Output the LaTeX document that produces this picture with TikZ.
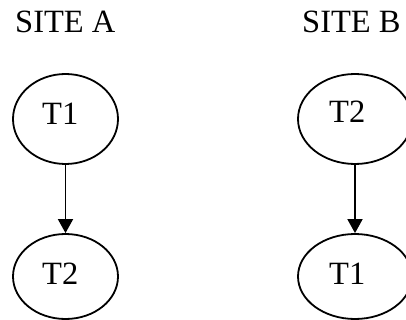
\documentclass[tikz,border=0pt]{standalone}
\usepackage{fontspec}
\setmainfont{Liberation Serif}
\usetikzlibrary{shapes.geometric,arrows.meta}
\begin{document}
\begin{tikzpicture}[x=1pt,y=-1pt,
  txn/.style={draw=black,ellipse,line width=1.8pt,inner sep=0pt},
  lbl/.style={anchor=base west,inner sep=0pt,font=\fontsize{32.5}{38}\selectfont},
  conn/.style={line width=1.8pt,-{Triangle[length=14pt,width=15pt]}}]
\useasboundingbox (0,0) rectangle (406,320);
\node[lbl] (siteA) at (15,33) {SITE A};
\node[lbl] (siteB) at (302,33) {SITE B};
\node[txn,minimum width=105pt,minimum height=90pt] (a1) at (65.5,119) {};
\node[txn,minimum width=105pt,minimum height=85pt] (a2) at (65.5,276.5) {};
\node[txn,minimum width=114pt,minimum height=90pt] (b1) at (355,119) {};
\node[txn,minimum width=114pt,minimum height=85pt] (b2) at (355,276.5) {};
\node[lbl] (ta1) at (42,125) {T1};
\node[lbl] (ta2) at (42,284) {T2};
\node[lbl] (tb1) at (329,123) {T2};
\node[lbl] (tb2) at (329,284) {T1};
\draw[conn] (a1.south) -- (a2.north);
\draw[conn] (b1.south) -- (b2.north);
\end{tikzpicture}
\end{document}
